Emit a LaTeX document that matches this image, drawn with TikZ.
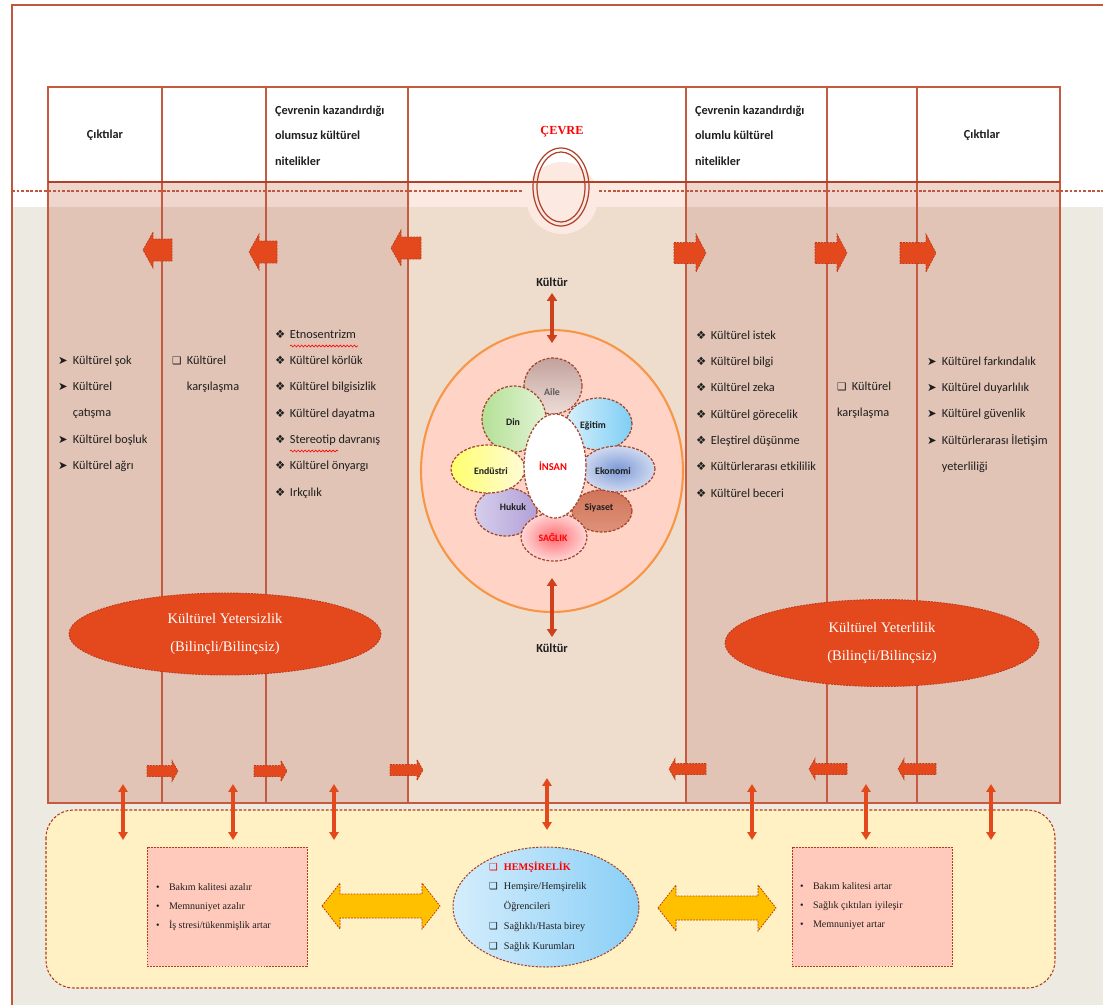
\documentclass[tikz,border=0pt]{standalone}
\usepackage{fontspec}
\setmainfont{Carlito}
\newfontfamily\djfont{DejaVu Sans}
\newfontfamily\serfont{Liberation Serif}
\usetikzlibrary{shapes.geometric,arrows.meta,decorations.pathmorphing}

\definecolor{frameC}{HTML}{C0573F}
\definecolor{tlineC}{HTML}{C55A40}
\definecolor{thickC}{HTML}{B0402A}
\definecolor{colfill}{HTML}{E1C4B5}
\definecolor{colband}{HTML}{EFD6CC}
\definecolor{ctrfill}{HTML}{EEDCCC}
\definecolor{ctrband}{HTML}{FBE9E2}
\definecolor{bgbeige}{HTML}{EDEAE1}
\definecolor{arrC}{HTML}{E4491E}
\definecolor{arrB}{HTML}{B8391A}
\definecolor{ylwC}{HTML}{FFF1C4}
\definecolor{yarrC}{HTML}{FFC000}
\definecolor{pinkC}{HTML}{FFCABB}
\definecolor{circC}{HTML}{FFD4C7}
\definecolor{circB}{HTML}{F79646}
\definecolor{petB}{HTML}{A5452C}
\definecolor{txtC}{HTML}{1E1E1E}
\definecolor{redT}{HTML}{FF0000}
\definecolor{aileT}{HTML}{C2A29C}
\definecolor{aileB}{HTML}{EEDCD8}

\newcommand\colfont{\fontsize{7pt}{15pt}\selectfont}
\newcommand\hdfont{\fontsize{7pt}{14.7pt}\selectfont\bfseries}
\newcommand\botfont{\serfont\fontsize{5.7pt}{11pt}\selectfont}
\newcommand\bA{\makebox[8.5pt][l]{\djfont\fontsize{6.5pt}{6pt}\selectfont ➤}}
\newcommand\bS{\makebox[8.5pt][l]{\djfont\fontsize{6pt}{6pt}\selectfont ❑}}
\newcommand\bD{\makebox[8.5pt][l]{\djfont\fontsize{6.5pt}{6pt}\selectfont ❖}}
\newcommand\bSs{\makebox[8.5pt][l]{\djfont\fontsize{5.5pt}{6pt}\selectfont ❑}}
\newcommand\bDot{\makebox[7.4pt][l]{•}}

% horizontal block arrow: [style]{tail x}{tip x}{y}{shaft half}{head half}{head length}
\newcommand\harrow[7][]{%
  \pgfmathsetmacro\myhb{#3+((#2<#3) ? (-#7) : (#7))}%
  \path[#1] (#2,{#4-#5}) -- (\myhb,{#4-#5}) -- (\myhb,{#4-#6}) -- (#3,#4)
    -- (\myhb,{#4+#6}) -- (\myhb,{#4+#5}) -- (#2,{#4+#5}) -- cycle;}
% horizontal double block arrow: [style]{x1}{x2}{y}{shaft half}{head half}{head length}
\newcommand\hdarrow[7][]{%
  \path[#1] (#2,#4) -- ({#2+#7},{#4-#6}) -- ({#2+#7},{#4-#5}) -- ({#3-#7},{#4-#5})
    -- ({#3-#7},{#4-#6}) -- (#3,#4) -- ({#3-#7},{#4+#6}) -- ({#3-#7},{#4+#5})
    -- ({#2+#7},{#4+#5}) -- ({#2+#7},{#4+#6}) -- cycle;}

\begin{document}
\begin{tikzpicture}[x=0.02cm,y=-0.02cm,
  every node/.style={inner sep=0pt,outer sep=0pt},
  tline/.style={draw=tlineC,line width=0.75pt},
  frameline/.style={draw=frameC,line width=0.8pt},
  thickline/.style={draw=thickC,line width=1.6pt},
  dline/.style={draw=frameC,line width=0.6pt,dash pattern=on 1.6pt off 1pt},
  cevre/.style={draw=thickC,line width=0.7pt},
  barrow/.style={fill=arrC,draw=arrB,line width=0.35pt,dash pattern=on 1pt off 0.7pt},
  yarrow/.style={fill=yarrC,draw=arrB,line width=0.45pt,dash pattern=on 1pt off 0.7pt},
  vdar/.style={draw=arrC,line width=2.1pt,{Triangle[width=5.2pt,length=4.5pt]}-{Triangle[width=5.2pt,length=4.5pt]}},
  kar/.style={draw=arrC!90!black,line width=2.1pt,{Triangle[width=5.6pt,length=4.5pt]}-{Triangle[width=5.6pt,length=4.5pt]}},
  oell/.style={ellipse,fill=arrC,draw=arrB,line width=0.5pt,dash pattern=on 1pt off 0.7pt,
    text=white,align=center,font=\serfont\fontsize{8.3pt}{15.9pt}\selectfont},
  petal/.style={ellipse,draw=petB,line width=0.7pt,dash pattern=on 1.6pt off 0.9pt},
  plabel/.style={font=\fontsize{5.6pt}{6pt}\selectfont\bfseries,text=txtC},
  coltext/.style={anchor=base west,font=\colfont,text=txtC},
  hdtext/.style={font=\hdfont,text=txtC},
  pbox/.style={draw=arrB,fill=pinkC,line width=0.5pt,dash pattern=on 1pt off 0.7pt},
  bottext/.style={anchor=base west,font=\botfont,text=txtC},
  wavy/.style={draw=redT,line width=0.35pt,decorate,decoration={snake,amplitude=0.55pt,segment length=2pt}}
  ]
\useasboundingbox (0,0) rectangle (1103,1005);

% backgrounds
\fill[bgbeige] (12,207) rectangle (1103,1005);
\fill[colband] (48,183) rectangle (408,207);
\fill[colband] (686,183) rectangle (1060,207);
\fill[ctrband] (408,183) rectangle (686,207);
\fill[colfill] (48,207) rectangle (408,803);
\fill[colfill] (686,207) rectangle (1060,803);
\fill[ctrfill] (408,207) rectangle (686,803);
\fill[ctrband] (562,198) ellipse [x radius=36,y radius=36];

% frame and table
\draw[frameline] (1103,5) -- (12,5) -- (12,1005);
\draw[tline] (48,87) rectangle (1060,803);
\foreach \x in {162,266,408,686,827,917} \draw[tline] (\x,87) -- (\x,803);
\draw[thickline] (48,182) -- (1060,182);
\draw[dline] (12,191) -- (523,191);
\draw[dline] (599,191) -- (1103,191);
\draw[cevre] (561,187) ellipse [x radius=28,y radius=39];
\draw[cevre] (561,187) ellipse [x radius=24,y radius=35];

% header texts
\node[hdtext] (h1) at (105,135) {Çıktılar};
\node[hdtext,anchor=base west] (h2) at (275,114) {\begin{tabular}[t]{@{}l@{}}Çevrenin kazandırdığı\\olumsuz kültürel\\nitelikler\end{tabular}};
\node[font=\serfont\fontsize{7pt}{8pt}\selectfont\bfseries,text=redT] (cevre) at (562,132) {ÇEVRE};
\node[hdtext,anchor=base west] (h4) at (695,114) {\begin{tabular}[t]{@{}l@{}}Çevrenin kazandırdığı\\olumlu kültürel\\nitelikler\end{tabular}};
\node[hdtext] (h5) at (982,135) {Çıktılar};

% top block arrows
\harrow[barrow]{172}{143}{250}{11}{18}{10}
\harrow[barrow]{277}{249}{252}{11}{18}{10}
\harrow[barrow]{421}{391}{248}{11}{18}{10}
\harrow[barrow]{674}{706}{253}{10.5}{19}{10}
\harrow[barrow]{815}{847}{253}{10.5}{19}{10}
\harrow[barrow]{900}{936}{253}{10.5}{19}{10}

% bottom small arrows
\harrow[barrow]{147}{178}{771}{5.5}{10.5}{6}
\harrow[barrow]{254}{287}{771}{5.5}{10.5}{6}
\harrow[barrow]{390}{423}{770}{5.5}{10.5}{6}
\harrow[barrow]{706}{669}{769}{5.5}{10.5}{6}
\harrow[barrow]{847}{809}{769}{5.5}{10.5}{6}
\harrow[barrow]{936}{898}{769}{5.5}{10.5}{6}

% column texts
\node[coltext] (c1) at (58,364) {\begin{tabular}[t]{@{}l@{}l@{}}
\bA & Kültürel şok\\ \bA & Kültürel\\ & çatışma\\ \bA & Kültürel boşluk\\ \bA & Kültürel ağrı\end{tabular}};
\node[coltext] (c2) at (172,364) {\begin{tabular}[t]{@{}l@{}l@{}}
\bS & Kültürel\\ & karşılaşma\end{tabular}};
\node[coltext] (c3) at (275,338) {\begin{tabular}[t]{@{}l@{}l@{}}
\bD & Etnosentrizm\\ \bD & Kültürel körlük\\ \bD & Kültürel bilgisizlik\\ \bD & Kültürel dayatma\\
\bD & Stereotip davranış\\ \bD & Kültürel önyargı\\ \bD & Irkçılık\end{tabular}};
\draw[wavy] (290,346) -- (358,346);
\draw[wavy] (290,451) -- (338,451);
\node[coltext] (c4) at (696,339) {\begin{tabular}[t]{@{}l@{}l@{}}
\bD & Kültürel istek\\ \bD & Kültürel bilgi\\ \bD & Kültürel zeka\\ \bD & Kültürel görecelik\\
\bD & Eleştirel düşünme\\ \bD & Kültürlerarası etkililik\\ \bD & Kültürel beceri\end{tabular}};
\node[coltext] (c5) at (837,390) {\begin{tabular}[t]{@{}l@{}l@{}}
\bS & Kültürel\\ \multicolumn{2}{@{}l@{}}{karşılaşma}\end{tabular}};
\node[coltext] (c6) at (927,365) {\begin{tabular}[t]{@{}l@{}l@{}}
\bA & Kültürel farkındalık\\ \bA & Kültürel duyarlılık\\ \bA & Kültürel güvenlik\\
\bA & Kültürlerarası İletişim\\ & yeterliliği\end{tabular}};

% orange ellipses
\node[oell,minimum width=6.24cm,minimum height=1.64cm] (yetersiz) at (225,634) {Kültürel Yetersizlik\\(Bilinçli/Bilinçsiz)};
\node[oell,minimum width=6.28cm,minimum height=1.74cm] (yeterli) at (882,643) {Kültürel Yeterlilik\\(Bilinçli/Bilinçsiz)};

% centre circle
\node[ellipse,fill=circC,draw=circB,line width=1.2pt,minimum width=5.24cm,minimum height=5.64cm] (env) at (552,471) {};
\node[petal,minimum width=1.16cm,minimum height=1.12cm,top color=aileT,bottom color=aileB] (aile) at (553,386) {};
\node[petal,minimum width=1.24cm,minimum height=0.96cm,left color={rgb,255:red,214;green,206;blue,236},right color={rgb,255:red,178;green,160;blue,214}] (hukuk) at (506,512) {};
\node[petal,minimum width=1.20cm,minimum height=0.84cm,top color={rgb,255:red,208;green,116;blue,90},bottom color={rgb,255:red,222;green,146;blue,120}] (siyaset) at (602,511) {};
\node[petal,minimum width=1.28cm,minimum height=1.32cm,left color={rgb,255:red,180;green,224;blue,150},right color={rgb,255:red,226;green,243;blue,212}] (din) at (514,419) {};
\node[petal,minimum width=1.32cm,minimum height=1.04cm,left color={rgb,255:red,214;green,239;blue,251},right color={rgb,255:red,126;green,206;blue,245}] (egitim) at (599,424) {};
\node[petal,minimum width=1.48cm,minimum height=0.96cm,left color={rgb,255:red,255;green,255;blue,110},right color={rgb,255:red,255;green,251;blue,216}] (endustri) at (488,469) {};
\node[petal,minimum width=1.48cm,minimum height=0.92cm,inner color={rgb,255:red,124;green,154;blue,214},outer color={rgb,255:red,208;green,218;blue,240}] (ekonomi) at (618,469) {};
\node[petal,minimum width=1.32cm,minimum height=0.96cm,inner color={rgb,255:red,255;green,110;blue,115},outer color={rgb,255:red,255;green,214;blue,214}] (saglik) at (554,537) {};
\node[petal,fill=white,minimum width=1.24cm,minimum height=2.08cm] (insan) at (555,466) {};

\node[plabel,text=gray!70!black] (laile) at (552,392) {Aile};
\node[plabel] (ldin) at (513,422) {Din};
\node[plabel] (legitim) at (593,426) {Eğitim};
\node[plabel] (lendustri) at (491,471) {Endüstri};
\node[plabel] (lekonomi) at (613,471) {Ekonomi};
\node[plabel] (lhukuk) at (513,507) {Hukuk};
\node[plabel] (lsiyaset) at (599,508) {Siyaset};
\node[plabel,text=redT] (lsaglik) at (553,537) {SAĞLIK};
\node[plabel,text=redT,font=\fontsize{6pt}{6pt}\selectfont\bfseries] (linsan) at (553,466) {İNSAN};

% Kültür labels and arrows
\node[font=\fontsize{7pt}{8pt}\selectfont\bfseries,text=txtC] (ktop) at (552,282) {Kültür};
\node[font=\fontsize{7pt}{8pt}\selectfont\bfseries,text=txtC] (kbot) at (552,648) {Kültür};
\coordinate (ka1) at (552,293);
\coordinate (ka2) at (552,343);
\coordinate (kb1) at (552,578);
\coordinate (kb2) at (552,637);
\draw[kar] (ka1) -- (ka2);
\draw[kar] (kb1) -- (kb2);

% bottom yellow box
\draw[draw=arrB,fill=ylwC,line width=0.6pt,dash pattern=on 1.6pt off 1pt,rounded corners=0.55cm] (46,810) rectangle (1055,988);

% vertical double arrows
\foreach \x/\n/\ya/\yb in {123/a/784/840,233/b/784/840,334/c/784/840,547/d/778/830,752/e/784/840,866/f/784/840,991/g/784/840}{
  \coordinate (vt\n) at (\x,\ya);
  \coordinate (vb\n) at (\x,\yb);
  \draw[vdar] (vt\n) -- (vb\n);
}

% pink boxes
\node[pbox,minimum width=3.2cm,minimum height=2.38cm] (lbox) at (227,906.5) {};
\node[pbox,minimum width=3.2cm,minimum height=2.38cm] (rbox) at (872,906.5) {};
\node[bottext] (lboxt) at (156,890) {\begin{tabular}[t]{@{}l@{}l@{}}
\bDot & Bakım kalitesi azalır\\ \bDot & Memnuniyet azalır\\ \bDot & İş stresi/tükenmişlik artar\end{tabular}};
\node[bottext] (rboxt) at (800,889) {\begin{tabular}[t]{@{}l@{}l@{}}
\bDot & Bakım kalitesi artar\\ \bDot & Sağlık çıktıları iyileşir\\ \bDot & Memnuniyet artar\end{tabular}};

% blue ellipse
\node[ellipse,draw=petB,line width=0.6pt,dash pattern=on 1.3pt off 0.8pt,left color={rgb,255:red,212;green,237;blue,252},right color={rgb,255:red,138;green,207;blue,246},minimum width=3.72cm,minimum height=2.4cm] (hem) at (546,907) {};
\node[bottext,font=\serfont\fontsize{5.8pt}{11.3pt}\selectfont] (hemt) at (489,870) {\begin{tabular}[t]{@{}l@{}l@{}}
\textcolor{redT}{\bSs} & \textcolor{redT}{\bfseries HEMŞİRELİK}\\ \bSs & Hemşire/Hemşirelik\\ & Öğrencileri\\ \bSs & Sağlıklı/Hasta birey\\ \bSs & Sağlık Kurumları\end{tabular}};

% yellow double arrows
\hdarrow[yarrow]{322}{440}{906}{12}{23}{18}
\hdarrow[yarrow]{658}{776}{908}{12}{23}{18}

\end{tikzpicture}
\end{document}
